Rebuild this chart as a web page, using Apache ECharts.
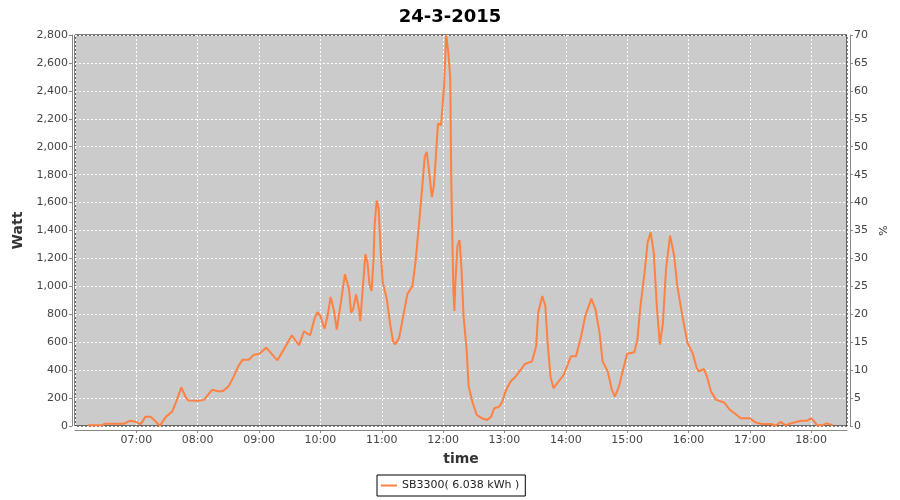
<!DOCTYPE html>
<html>
<head>
<meta charset="utf-8">
<script src="https://cdn.jsdelivr.net/npm/echarts@6/dist/echarts.min.js"></script>
<style>html,body{margin:0;padding:0;background:#fff}#c{width:900px;height:500px}</style>
</head>
<body>
<div id="c"></div>
<script>
var chartTitle = '24-3-2015';
var seriesName = 'SB3300( 6.038 kWh )';
var times = ['06:13','06:27','06:29','06:48','06:49','06:54','06:59','07:04','07:09','07:14','07:23','07:29','07:35','07:39','07:44','07:48','07:51','08:01','08:06','08:14','08:21','08:25','08:30','08:35','08:40','08:44','08:50','08:55','09:00','09:07','09:13','09:18','09:26','09:32','09:39','09:44','09:47','09:50','09:54','09:57','10:00','10:04','10:07','10:10','10:13','10:16','10:20','10:24','10:25','10:28','10:30','10:32','10:35','10:38','10:39','10:42','10:44','10:46','10:48','10:50','10:52','10:53','10:55','10:57','10:59','11:01','11:05','11:08','11:11','11:13','11:17','11:21','11:25','11:30','11:33','11:36','11:40','11:42','11:44','11:46','11:49','11:51','11:53','11:55','11:58','11:59','12:01','12:03','12:05','12:07','12:08','12:09','12:10','12:11','12:12','12:14','12:16','12:18','12:20','12:23','12:25','12:29','12:33','12:38','12:43','12:47','12:50','12:55','12:58','13:01','13:06','13:11','13:16','13:20','13:27','13:31','13:33','13:37','13:40','13:42','13:45','13:48','13:53','13:58','14:05','14:10','14:15','14:19','14:25','14:29','14:33','14:36','14:41','14:45','14:48','14:52','14:56','15:00','15:07','15:10','15:13','15:17','15:20','15:23','15:26','15:29','15:32','15:35','15:38','15:42','15:46','15:49','15:54','15:59','16:04','16:08','16:10','16:15','16:18','16:22','16:27','16:35','16:40','16:45','16:51','17:00','17:06','17:12','17:21','17:25','17:30','17:35','17:40','17:45','17:50','17:56','18:00','18:03','18:06','18:11','18:15','18:21'];
var watts = [5,5,17,17,31,38,31,12,67,67,2,67,103,175,276,211,182,180,187,259,247,252,283,350,432,475,475,511,516,561,511,470,571,650,578,679,662,650,763,816,787,696,787,924,835,691,883,1087,1099,979,811,835,943,823,751,1039,1231,1171,1015,967,1195,1435,1615,1555,1243,1027,907,739,607,583,631,787,943,1003,1171,1411,1747,1927,1963,1843,1639,1722,1938,2167,2155,2143,2442,2800,2683,2491,1747,1363,979,823,1027,1291,1332,1123,787,547,283,163,79,55,43,67,127,139,175,247,319,355,403,444,463,571,811,931,859,619,355,271,319,367,499,499,643,787,912,835,667,463,391,259,211,283,403,518,528,619,859,1099,1315,1387,1243,859,583,739,1123,1363,1219,1003,787,595,523,415,391,408,355,247,187,168,120,91,55,55,24,14,14,2,29,5,19,29,38,38,55,31,5,5,19,5];
var wattTicks = {min: 0, max: 2800, step: 200};
var pctTicks = {min: 0, max: 70, step: 5};
var timeRange = {min: '06:00', max: '18:35', step: 60};

function toMin(s){var p=s.split(':');return +p[0]*60 + +p[1];}
function fmtMin(v){var h=Math.floor(v/60),m=Math.round(v%60);return (h<10?'0':'')+h+':'+(m<10?'0':'')+m;}
var data = times.map(function(t,i){return [toMin(t), watts[i]];});

var font = 'DejaVu Sans';
var axisGray = '#888888';
var labelColor = '#444444';
var chart = echarts.init(document.getElementById('c'));
chart.setOption({
  animation: false,
  backgroundColor: '#ffffff',
  title: {text: chartTitle, left: 'center', top: 3, textStyle: {fontFamily: font, fontSize: 18, fontWeight: 'bold', color: '#000'}},
  legend: {
    data: [seriesName], left: 377, top: 475, orient: 'horizontal',
    icon: 'rect', itemWidth: 16, itemHeight: 2, itemGap: 4,
    borderColor: '#000', borderWidth: 1, borderRadius: 0, padding: [5, 6, 5, 4],
    textStyle: {fontFamily: font, fontSize: 11, color: '#222'}
  },
  grid: {left: 75, right: 53, top: 35, bottom: 74, show: true, backgroundColor: '#cbcbcb', borderColor: '#000', borderWidth: 1},
  xAxis: {
    type: 'value', min: toMin(timeRange.min), max: toMin(timeRange.max), interval: timeRange.step,
    offset: 4,
    name: 'time', nameLocation: 'middle', nameGap: 22,
    nameTextStyle: {fontFamily: font, fontSize: 14, fontWeight: 'bold', color: '#333'},
    axisLine: {show: true, onZero: false, lineStyle: {color: axisGray}},
    axisTick: {show: true, length: 3, lineStyle: {color: axisGray}},
    axisLabel: {fontFamily: font, fontSize: 11, color: labelColor, margin: 5, showMinLabel: false, showMaxLabel: false, formatter: fmtMin},
    splitLine: {show: true, lineStyle: {color: '#ffffff', type: [2, 2], width: 1}}
  },
  yAxis: [{
    type: 'value', position: 'left', min: wattTicks.min, max: wattTicks.max, interval: wattTicks.step,
    offset: 3,
    name: 'Watt', nameLocation: 'middle', nameGap: 44,
    nameTextStyle: {fontFamily: font, fontSize: 14, fontWeight: 'bold', color: '#333'},
    axisLine: {show: true, lineStyle: {color: axisGray}},
    axisTick: {show: true, length: 3, lineStyle: {color: axisGray}},
    axisLabel: {fontFamily: font, fontSize: 11, color: labelColor, margin: 4, formatter: function(v){return v.toLocaleString('en-US');}},
    splitLine: {show: true, lineStyle: {color: '#ffffff', type: [2, 2], width: 1}}
  }, {
    type: 'value', position: 'right', min: pctTicks.min, max: pctTicks.max, interval: pctTicks.step,
    offset: 3,
    name: '%', nameLocation: 'middle', nameGap: 26,
    nameTextStyle: {fontFamily: font, fontSize: 11, color: '#333'},
    axisLine: {show: true, lineStyle: {color: axisGray}},
    axisTick: {show: true, length: 3, lineStyle: {color: axisGray}},
    axisLabel: {fontFamily: font, fontSize: 11, color: labelColor, margin: 4},
    splitLine: {show: false}
  }],
  series: [{
    name: seriesName, type: 'line', yAxisIndex: 0, data: data,
    symbol: 'none', smooth: false,
    lineStyle: {color: '#ff8040', width: 2},
    itemStyle: {color: '#ff8040'}
  }]
});
</script>
</body>
</html>
